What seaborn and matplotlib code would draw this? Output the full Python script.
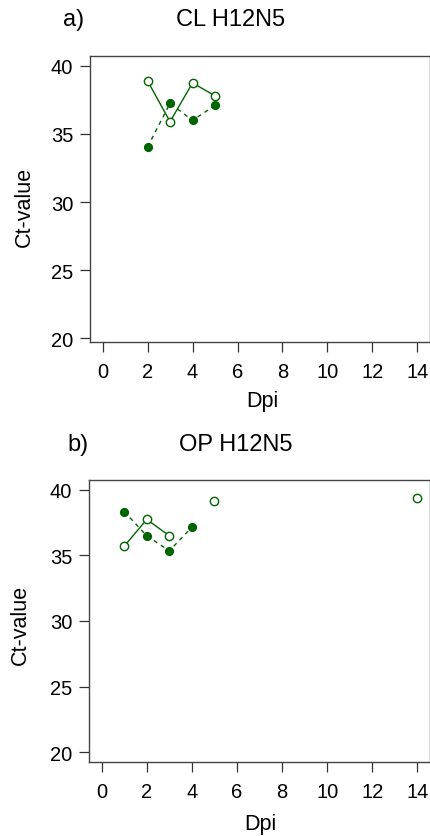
import matplotlib
matplotlib.use("Agg")
import matplotlib.pyplot as plt
import seaborn as sns
import pandas as pd

sns.set_theme(style="white")
plt.rcParams["font.family"] = ["Liberation Sans", "DejaVu Sans"]

GREEN = "#006400"

# Panel a: CL H12N5
a_open_days = [2, 3, 4, 5]
a_open_ct = [38.9, 35.9, 38.75, 37.8]
a_open_seg = [0, 0, 0, 0]
a_fill_days = [2, 3, 4, 5]
a_fill_ct = [34.05, 37.25, 36.0, 37.1]
a_fill_seg = [0, 0, 0, 0]

# Panel b: OP H12N5
b_open_days = [1, 2, 3, 5, 14]
b_open_ct = [35.7, 37.75, 36.5, 39.15, 39.4]
b_open_seg = [0, 0, 0, 1, 2]
b_fill_days = [1, 2, 3, 4]
b_fill_ct = [38.35, 36.5, 35.35, 37.15]
b_fill_seg = [0, 0, 0, 0]

x_ticks = [0, 2, 4, 6, 8, 10, 12, 14]
y_ticks = [20, 25, 30, 35, 40]

FS_TICK = 14.5
FS_LAB = 15.5
FS_TITLE = 17

fig = plt.figure(figsize=(4.31, 8.37), dpi=100)
ax_a = fig.add_axes([0.2088, 0.5898, 0.7889, 0.3425])
ax_b = fig.add_axes([0.2065, 0.0881, 0.7912, 0.3376])


def draw_series(ax, days, ct, seg, filled, dashed):
    df = pd.DataFrame({"Dpi": days, "Ct": ct, "seg": seg})
    sns.lineplot(
        data=df, x="Dpi", y="Ct", units="seg", estimator=None, ax=ax,
        color=GREEN, linewidth=1.0, linestyle=(0, (3, 3)) if dashed else "-",
        marker="o", markersize=5.6 if filled else 6,
        markerfacecolor=GREEN if filled else "white",
        markeredgecolor=GREEN, markeredgewidth=1.0, sort=False,
    )


def style_axes(ax, ylim):
    ax.set_xlim(-0.56, 14.56)
    ax.set_ylim(*ylim)
    ax.set_xticks(x_ticks)
    ax.set_yticks(y_ticks)
    ax.set_xticklabels([str(v) for v in x_ticks], fontsize=FS_TICK, color="black")
    ax.set_yticklabels([str(v) for v in y_ticks], fontsize=FS_TICK, color="black")
    ax.tick_params(axis="both", direction="out", length=7, width=0.9,
                   color="#333333", bottom=True, left=True, pad=5)
    ax.tick_params(axis="x", pad=7)
    for sp in ax.spines.values():
        sp.set_color("#444444")
        sp.set_linewidth(1.0)
    ax.set_xlabel("")
    ax.set_ylabel("")
    ax.grid(False)


draw_series(ax_a, a_open_days, a_open_ct, a_open_seg, filled=False, dashed=False)
draw_series(ax_a, a_fill_days, a_fill_ct, a_fill_seg, filled=True, dashed=True)
draw_series(ax_b, b_open_days, b_open_ct, b_open_seg, filled=False, dashed=False)
draw_series(ax_b, b_fill_days, b_fill_ct, b_fill_seg, filled=True, dashed=True)

style_axes(ax_a, (19.7, 40.75))
style_axes(ax_b, (19.22, 40.78))

W, H = 431, 837


def ftext(x, y, s, fs, **kw):
    fig.text(x / W, 1 - y / H, s, fontsize=fs, ha="center", va="center",
             color="black", **kw)


ftext(74, 20, "a)", FS_TITLE)
ftext(231, 20, "CL H12N5", FS_TITLE)
ftext(78, 445, "b)", FS_TITLE)
ftext(236, 445, "OP H12N5", FS_TITLE)
ftext(262, 402, "Dpi", FS_LAB)
ftext(260, 825, "Dpi", FS_LAB)
ftext(24, 207, "Ct-value", FS_LAB, rotation=90)
ftext(20, 625, "Ct-value", FS_LAB, rotation=90)

fig.savefig("out.png", dpi=100)
